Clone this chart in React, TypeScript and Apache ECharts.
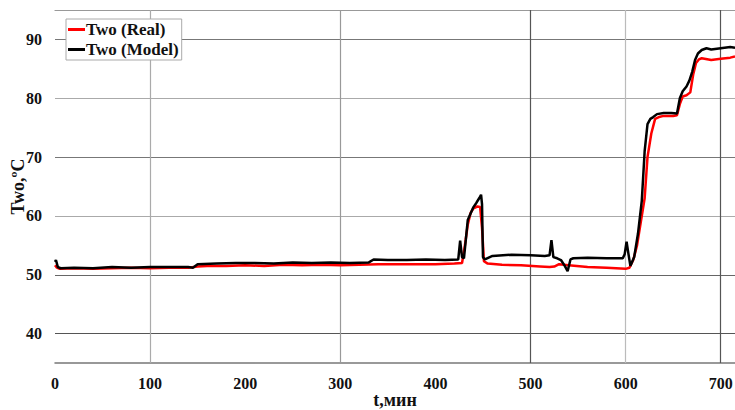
import React, { useEffect, useRef } from "react";
import * as echarts from "echarts";

const tReal = [0, 2, 5, 20, 40, 60, 80, 100, 120, 140, 150, 160, 180, 200, 220, 240, 260, 280, 300, 320, 340, 360, 380, 400, 420, 428, 431, 434, 437, 440, 444, 447, 449, 451, 455, 470, 490, 510, 520, 525, 530, 540, 560, 580, 600, 604, 608, 612, 616, 620, 623, 627, 631, 635, 640, 645, 650, 654, 657, 660, 664, 668, 671, 674, 677, 680, 690, 700, 710, 715];
const real = [51.6, 51.2, 51.0, 51.1, 51.0, 51.1, 51.2, 51.1, 51.2, 51.2, 51.4, 51.5, 51.5, 51.6, 51.5, 51.7, 51.6, 51.7, 51.6, 51.7, 51.8, 51.8, 51.8, 51.8, 51.9, 52.0, 55, 58.5, 60.5, 61.3, 61.6, 61.5, 58, 52.3, 51.9, 51.7, 51.6, 51.4, 51.3, 51.4, 51.8, 51.6, 51.3, 51.2, 51.0, 51.2, 52.5, 55, 59, 63, 70, 74, 76.5, 76.8, 77, 77, 77, 77.1, 79, 80.3, 80.5, 81, 84, 86, 86.6, 86.8, 86.5, 86.7, 86.9, 87.1];

const tModel = [0, 1, 3, 6, 20, 40, 60, 80, 100, 120, 140, 145, 150, 170, 190, 210, 230, 250, 270, 290, 310, 330, 335, 350, 370, 390, 410, 424, 426, 428, 430, 432, 434, 437, 440, 443, 446, 448, 449, 450, 452, 460, 480, 500, 515, 520, 522, 524, 528, 532, 536, 539, 542, 545, 560, 580, 597, 599, 601, 603, 605, 609, 613, 617, 620, 623, 626, 629, 633, 640, 648, 654, 657, 660, 664, 667, 670, 673, 676, 680, 685, 690, 700, 710, 715];
const model = [52.2, 52.5, 51.3, 51.1, 51.2, 51.1, 51.3, 51.2, 51.3, 51.3, 51.3, 51.2, 51.8, 51.9, 52.0, 52.0, 51.9, 52.1, 52.0, 52.1, 52.0, 52.1, 52.6, 52.5, 52.5, 52.6, 52.5, 52.6, 55.8, 53, 52.8, 56, 59.3, 60.4, 61.5, 62.2, 63, 63.6, 62, 53, 52.6, 53.2, 53.4, 53.3, 53.2, 53.3, 55.9, 53, 52.8, 52.5, 51.5, 50.6, 52.6, 52.8, 52.9, 52.8, 52.8, 53.5, 55.6, 53.5, 51.5, 53, 57, 62.6, 71, 75.6, 76.5, 76.8, 77.3, 77.5, 77.5, 77.4, 80, 81.2, 82, 83, 84.5, 86.5, 87.6, 88.2, 88.5, 88.3, 88.5, 88.7, 88.6];

const yTicks = [40, 50, 60, 70, 80, 90];
const yGridColors = ["#555", "#666", "#aaa", "#777", "#aaa", "#777"];
const xGrid = [100, 300, 500, 600, 700];
const xGridColors = ["#aaa", "#999", "#555", "#bbb", "#555"];

const FONT = "Liberation Serif";

export default function App() {
  const ref = useRef<HTMLDivElement>(null);
  useEffect(() => {
    if (!ref.current) return;
    const chart = echarts.init(ref.current, null, { renderer: "svg" });
    const gridLines: any[] = [];
    yTicks.forEach((v, i) =>
      gridLines.push({ yAxis: v, lineStyle: { color: yGridColors[i], width: 1.2, type: "solid" } })
    );
    xGrid.forEach((v, i) =>
      gridLines.push({ xAxis: v, lineStyle: { color: xGridColors[i], width: 1.2, type: "solid" } })
    );
    chart.setOption({
      animation: false,
      backgroundColor: "#fff",
      grid: { left: 55, right: 0, top: 10, bottom: 47, containLabel: false, outerBoundsMode: "none" },
      legend: {
        left: 66,
        top: 19,
        orient: "vertical",
        backgroundColor: "#fff",
        borderColor: "#aaa",
        borderWidth: 1,
        borderRadius: 0,
        padding: [2, 3, 2, 2],
        itemGap: 3,
        itemWidth: 17,
        itemHeight: 3,
        icon: "rect",
        textStyle: { fontFamily: FONT, fontWeight: "bold", fontSize: 17, color: "#111", padding: [0, 0, 0, -4] },
        data: ["Two (Real)", "Two (Model)"],
      },
      xAxis: [
        {
          type: "value",
          min: 0,
          max: 715,
          interval: 100,
          name: "t,мин",
          nameLocation: "middle",
          nameGap: 28,
          nameMoveOverlap: false,
          nameTextStyle: { fontFamily: FONT, fontWeight: "bold", fontSize: 18, color: "#111" },
          axisLine: { show: true, lineStyle: { color: "#777", width: 1.5 } },
          axisTick: { show: false },
          splitLine: { show: false },
          axisLabel: {
            fontFamily: FONT,
            fontWeight: "bold",
            fontSize: 16,
            color: "#111",
            margin: 12,
            formatter: (v: number) => (v % 100 === 0 ? String(v) : ""),
          },
        },
        {
          type: "value",
          position: "top",
          min: 0,
          max: 715,
          axisLine: { show: true, lineStyle: { color: "#999", width: 1.2 } },
          axisTick: { show: false },
          axisLabel: { show: false },
          splitLine: { show: false },
        },
      ],
      yAxis: {
        type: "value",
        min: 35,
        max: 95,
        name: "Two,ºC",
        nameLocation: "middle",
        nameGap: 28,
        nameMoveOverlap: false,
        nameTextStyle: { fontFamily: FONT, fontWeight: "bold", fontSize: 18, color: "#111" },
        axisLine: { show: false },
        axisTick: { show: false },
        splitLine: { show: false },
        axisLabel: {
          fontFamily: FONT,
          fontWeight: "bold",
          fontSize: 16,
          color: "#111",
          margin: 13,
          customValues: yTicks,
        },
      },
      series: [
        {
          name: "Two (Model)",
          type: "line",
          data: tModel.map((t, i) => [t, model[i]]),
          showSymbol: false,
          symbol: "none",
          lineStyle: { color: "#000", width: 2.5 },
          itemStyle: { color: "#000" },
          z: 3,
          markLine: {
            silent: true,
            symbol: "none",
            label: { show: false },
            data: gridLines,
            z: 1,
          },
        },
        {
          name: "Two (Real)",
          type: "line",
          data: tReal.map((t, i) => [t, real[i]]),
          showSymbol: false,
          symbol: "none",
          lineStyle: { color: "#ff0000", width: 2.5 },
          itemStyle: { color: "#ff0000" },
          z: 2,
        },
      ],
    });
    return () => chart.dispose();
  }, []);
  return <div ref={ref} style={{ width: 735, height: 410, position: "absolute", left: 0, top: 0 }} />;
}
